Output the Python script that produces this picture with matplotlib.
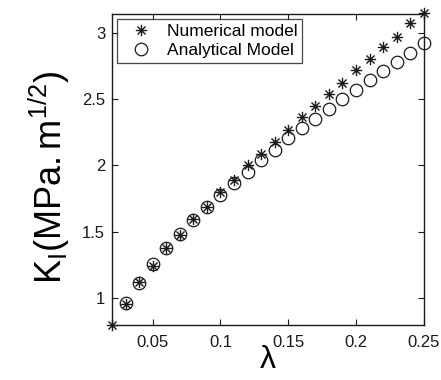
import numpy as np
import matplotlib
matplotlib.use("Agg")
import matplotlib.pyplot as plt
from matplotlib.path import Path

plt.rcParams['font.family'] = ['Liberation Sans', 'DejaVu Sans']
plt.rcParams['mathtext.fontset'] = 'custom'
plt.rcParams['mathtext.rm'] = 'Liberation Sans'
plt.rcParams['mathtext.it'] = 'Liberation Sans'

lam_num = [0.02, 0.03, 0.04, 0.05, 0.06, 0.07, 0.08, 0.09, 0.10, 0.11, 0.12, 0.13,
           0.14, 0.15, 0.16, 0.17, 0.18, 0.19, 0.20, 0.21, 0.22, 0.23, 0.24, 0.25]
k_num = [0.80, 0.96, 1.12, 1.24, 1.376, 1.48, 1.597, 1.69, 1.80, 1.89, 2.00, 2.087,
         2.18, 2.265, 2.368, 2.448, 2.54, 2.62, 2.72, 2.80, 2.895, 2.97, 3.07, 3.145]

lam_ana = [0.03, 0.04, 0.05, 0.06, 0.07, 0.08, 0.09, 0.10, 0.11, 0.12, 0.13,
           0.14, 0.15, 0.16, 0.17, 0.18, 0.19, 0.20, 0.21, 0.22, 0.23, 0.24, 0.25]
k_ana = [0.967, 1.118, 1.256, 1.376, 1.484, 1.59, 1.69, 1.78, 1.87, 1.954, 2.04,
         2.12, 2.205, 2.28, 2.35, 2.425, 2.50, 2.568, 2.64, 2.71, 2.78, 2.85, 2.92]

xticks = [0.05, 0.1, 0.15, 0.2, 0.25]
xtick_labels = ['0.05', '0.1', '0.15', '0.2', '0.25']
yticks = [1, 1.5, 2, 2.5, 3]
ytick_labels = ['1', '1.5', '2', '2.5', '3']

# MATLAB-style asterisk marker (+ and x combined)
d = np.sqrt(0.5)
verts = [(-1, 0), (1, 0), (0, -1), (0, 1), (-d, -d), (d, d), (-d, d), (d, -d)]
codes = [Path.MOVETO, Path.LINETO] * 4
asterisk = Path(verts, codes)

fig = plt.figure(figsize=(4.41, 3.80), dpi=100)
ax = fig.add_axes([0.254, 0.145, 0.707, 0.818])

ax.plot(lam_num, k_num, linestyle='none', marker=asterisk, markersize=8.2,
        markeredgewidth=1.0, color='#1a1a1a', label='Numerical model', clip_on=False)
ax.plot(lam_ana, k_ana, linestyle='none', marker='o', markersize=9,
        markeredgewidth=0.9, markerfacecolor='none', markeredgecolor='#1a1a1a',
        label='Analytical Model', clip_on=False)

ax.set_xlim(0.02, 0.25)
ax.set_ylim(0.8, 3.14)
ax.set_xticks(xticks)
ax.set_xticklabels(xtick_labels)
ax.set_yticks(yticks)
ax.set_yticklabels(ytick_labels)
ax.tick_params(direction='in', top=True, right=True, labelsize=12,
               length=4, width=0.8, colors='#1a1a1a')
ax.tick_params(axis='x', pad=7)
ax.tick_params(axis='y', pad=5)
for s in ax.spines.values():
    s.set_linewidth(1.0)
    s.set_color('#1a1a1a')

ax.set_xlabel('λ', fontsize=23)
ax.xaxis.set_label_coords(0.5, -0.066)
ax.set_ylabel(r'$\mathrm{K_I(MPa.m^{1/2})}$', fontsize=26)
ax.yaxis.set_label_coords(-0.128, 0.474)

leg = ax.legend(loc='upper left', fontsize=12.5, frameon=True, fancybox=False,
                borderpad=0.3, handletextpad=0.35, handlelength=2.2,
                labelspacing=0.2, borderaxespad=0.29, edgecolor='#1a1a1a')
leg.get_frame().set_linewidth(0.9)

fig.savefig('out.png', dpi=100)
